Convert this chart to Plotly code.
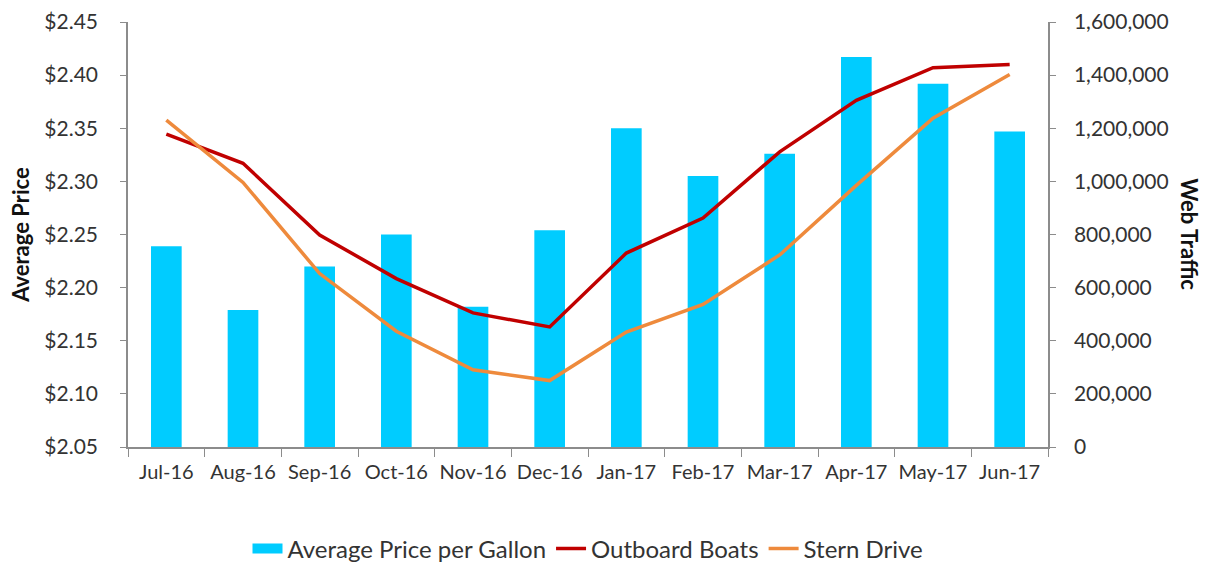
import plotly.graph_objects as go

months = ["Jul-16", "Aug-16", "Sep-16", "Oct-16", "Nov-16", "Dec-16",
          "Jan-17", "Feb-17", "Mar-17", "Apr-17", "May-17", "Jun-17"]
avg_price = [2.239, 2.179, 2.220, 2.250, 2.182, 2.254,
             2.350, 2.305, 2.326, 2.417, 2.392, 2.347]
outboard = [1178000, 1068000, 798000, 634000, 505000, 452000,
            730000, 862000, 1111000, 1305000, 1428000, 1440000]
stern = [1231000, 996000, 653000, 436000, 291000, 250000,
         433000, 537000, 723000, 985000, 1238000, 1402000]

left_ticks = [2.05, 2.10, 2.15, 2.20, 2.25, 2.30, 2.35, 2.40, 2.45]
right_ticks = [0, 200000, 400000, 600000, 800000, 1000000, 1200000, 1400000, 1600000]

FONT = "Lato, 'Open Sans', sans-serif"
AXIS_COLOR = "#8c8c8c"
TEXT_COLOR = "#333333"
BAR_COLOR = "#00CCFF"

fig = go.Figure()
fig.add_trace(go.Bar(x=months, y=avg_price, name="Average Price per Gallon",
                     marker=dict(color=BAR_COLOR, line=dict(width=0)), yaxis="y",
                     showlegend=False, legendgroup="price"))
# legend swatch for the bars (rectangular block like the original)
fig.add_trace(go.Scatter(x=[None], y=[None], name="Average Price per Gallon", mode="lines",
                         line=dict(color=BAR_COLOR, width=15), yaxis="y",
                         legendgroup="price"))
fig.add_trace(go.Scatter(x=months, y=outboard, name="Outboard Boats", mode="lines",
                         line=dict(color="#C00000", width=3.5), yaxis="y2"))
fig.add_trace(go.Scatter(x=months, y=stern, name="Stern Drive", mode="lines",
                         line=dict(color="#EE8A3C", width=3.5), yaxis="y2"))

fig.update_layout(
    width=1210, height=565,
    margin=dict(l=120, r=170, t=14, b=126, autoexpand=False),
    paper_bgcolor="white", plot_bgcolor="white",
    font=dict(family=FONT, size=20, color=TEXT_COLOR),
    bargap=0.6,
    showlegend=True,
    legend=dict(orientation="h", x=0.5, xanchor="center", y=-0.24, yanchor="middle",
                font=dict(size=24, color=TEXT_COLOR), traceorder="normal"),
    xaxis=dict(type="category", showline=True, linecolor=AXIS_COLOR, linewidth=1.5,
               ticks="outside", ticklen=8, tickcolor=AXIS_COLOR, tickson="boundaries",
               showgrid=False, tickfont=dict(size=20), automargin=False,
               tickangle=0, ticklabelstandoff=6),
    yaxis=dict(range=[2.05, 2.45], tickvals=left_ticks, tickformat="$.2f",
               showline=True, linecolor=AXIS_COLOR, linewidth=1.5,
               ticks="outside", ticklen=6, tickcolor=AXIS_COLOR,
               showgrid=False, zeroline=False, tickfont=dict(size=21),
               automargin=False, ticklabelstandoff=18, ticklabeloverflow="allow"),
    yaxis2=dict(range=[0, 1600000], tickvals=right_ticks, overlaying="y", side="right",
                tickformat=",d",
                showline=True, linecolor=AXIS_COLOR, linewidth=1.5,
                ticks="outside", ticklen=6, tickcolor=AXIS_COLOR,
                showgrid=False, zeroline=False, tickfont=dict(size=21),
                automargin=False, ticklabelstandoff=14, ticklabeloverflow="allow"),
    annotations=[
        dict(text="<b>Average Price</b>", x=-0.117, y=0.5, xref="paper", yref="paper",
             textangle=-90, showarrow=False, font=dict(size=22, color="#111111"),
             xanchor="center", yanchor="middle"),
        dict(text="<b>Web Traffic</b>", x=1.1536, y=0.5, xref="paper", yref="paper",
             textangle=90, showarrow=False, font=dict(size=22, color="#111111"),
             xanchor="center", yanchor="middle"),
    ],
)

fig.write_html("out.html")
